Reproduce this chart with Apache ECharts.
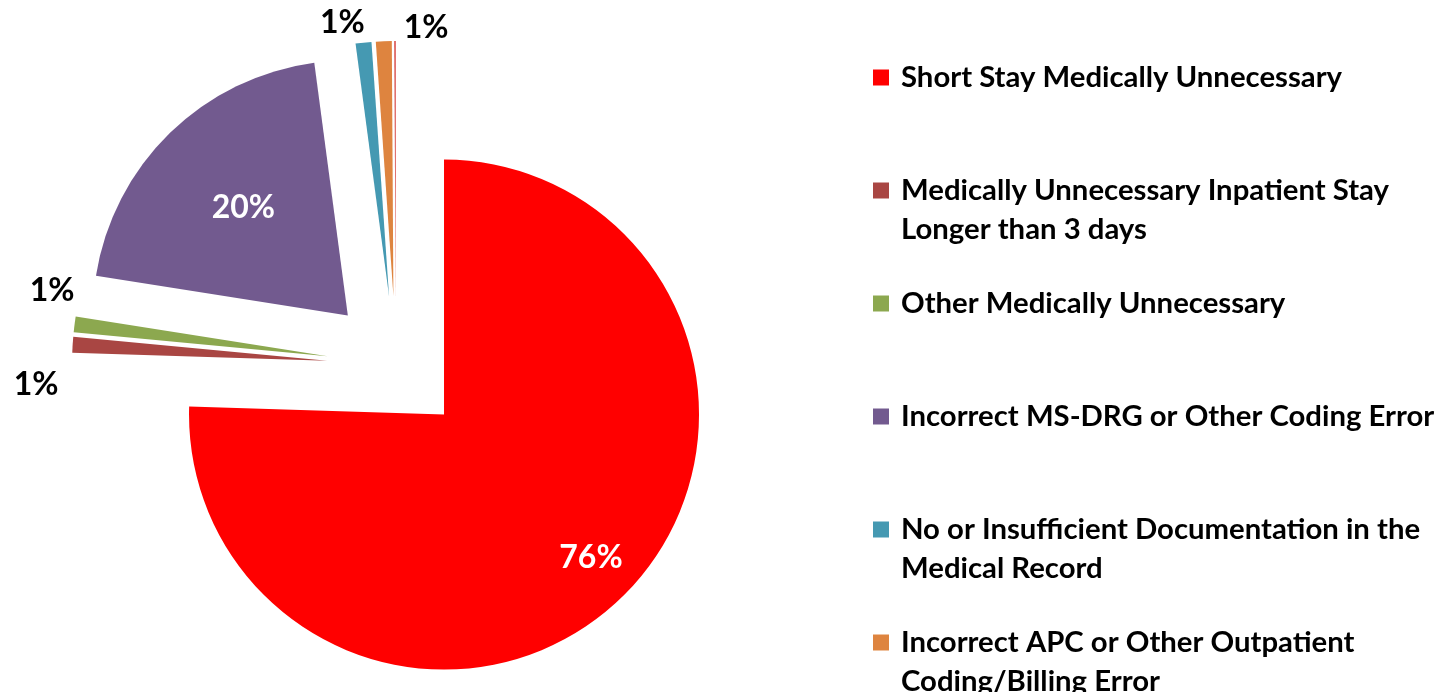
<!DOCTYPE html>
<html>
<head>
<meta charset="utf-8">
<script src="https://cdn.jsdelivr.net/npm/echarts@6/dist/echarts.min.js"></script>
<style>
  html, body { margin: 0; padding: 0; background: #fff; }
  #chartId { width: 1437px; height: 692px; }
</style>
</head>
<body>
<div id="chartId"></div>
<script>
// categories, clockwise from 12 o'clock
const categories = [
  "Short Stay Medically Unnecessary",
  "Medically Unnecessary Inpatient Stay Longer than 3 days",
  "Other Medically Unnecessary",
  "Incorrect MS-DRG or Other Coding Error",
  "No or Insufficient Documentation in the Medical Record",
  "Incorrect APC or Other Outpatient Coding/Billing Error",
  "Other"
];
// share of errors (%)
const values = [75.5, 1.0, 1.0, 20.4, 1.0, 1.0, 0.1];
// legend lines (wrapped as in the original)
const legendLines = [
  ["Short Stay Medically Unnecessary"],
  ["Medically Unnecessary Inpatient Stay", "Longer than 3 days"],
  ["Other Medically Unnecessary"],
  ["Incorrect MS-DRG or Other Coding Error"],
  ["No or Insufficient Documentation in the", "Medical Record"],
  ["Incorrect APC or Other Outpatient", "Coding/Billing Error"]
];

const colorArr = ["#ff0000", "#a94643", "#8ca84f", "#725a8f", "#4599b2", "#de843f", "#d9534f"];
const FONT = "Lato, 'Open Sans', sans-serif";
const CX = 396, CY = 365, R = 255, EXPLODE = 69;
// label placement: [radius factor, angle nudge in degrees], null = no label
const labelPlace = [[0.805, -1.6], [1.145, -8.4], [1.11, 6.2], [0.59, 0.3], [1.09, -3.9], [1.06, 9.1], null];
const insideLabel = [true, false, false, true, false, false, false];

// mid angles (clockwise from top) from the data
const total = values.reduce((a, b) => a + b, 0);
let acc = 0;
const midAngles = values.map(v => {
  const a0 = acc;
  acc += (v / total) * 360;
  return (a0 + acc) / 2;
});
const rad = d => (d * Math.PI) / 180;

let chart = echarts.init(document.getElementById("chartId"));

let pieBase = {
  type: "pie",
  center: [CX, CY],
  radius: R,
  startAngle: 90,
  clockwise: true,
  avoidLabelOverlap: false,
  emphasis: { disabled: true },
  labelLine: { show: false }
};

let option = {
  animation: false,
  color: colorArr,
  legend: {
    orient: "vertical",
    left: 873,
    top: 19,
    height: 2000,
    padding: 0,
    itemWidth: 16,
    itemHeight: 16,
    itemGap: -4,
    icon: "rect",
    selectedMode: false,
    textStyle: {
      color: "#000",
      fontFamily: FONT,
      fontWeight: "bold",
      fontSize: 29.3,
      lineHeight: 39,
      padding: [0, 0, 0, 7]
    },
    // blank line above so the first line sits level with the icon
    formatter: name => {
      const l = legendLines[categories.indexOf(name)];
      return " \n" + l[0] + "\n" + (l[1] || " ");
    },
    data: categories.slice(0, legendLines.length)
  },
  series: [
    // the exploded slices
    Object.assign({}, pieBase, {
      selectedMode: "multiple",
      selectedOffset: EXPLODE,
      itemStyle: { borderWidth: 0 },
      label: { show: false },
      data: categories.map((name, i) => ({
        name: name,
        value: values[i],
        selected: true
      }))
    }),
    // same data, transparent, only carries the percentage labels
    Object.assign({}, pieBase, {
      silent: true,
      selectedMode: false,
      itemStyle: { color: "rgba(0,0,0,0)", borderWidth: 0 },
      label: {
        position: "inside",
        fontFamily: FONT,
        fontWeight: "bold",
        fontSize: 32,
        formatter: p => Math.round(p.percent) + "%"
      },
      labelLayout: params => {
        const i = params.dataIndex;
        const pl = labelPlace[i];
        if (!pl) return {};
        const m = rad(midAngles[i]);
        const a = rad(midAngles[i] + pl[1]);
        return {
          x: CX + EXPLODE * Math.sin(m) + R * pl[0] * Math.sin(a),
          y: CY - EXPLODE * Math.cos(m) - R * pl[0] * Math.cos(a),
          align: "center",
          verticalAlign: "middle"
        };
      },
      data: categories.map((name, i) => ({
        name: name,
        value: values[i],
        label: {
          show: labelPlace[i] !== null,
          color: insideLabel[i] ? "#fff" : "#000"
        }
      }))
    })
  ]
};

chart.setOption(option);
</script>
</body>
</html>
